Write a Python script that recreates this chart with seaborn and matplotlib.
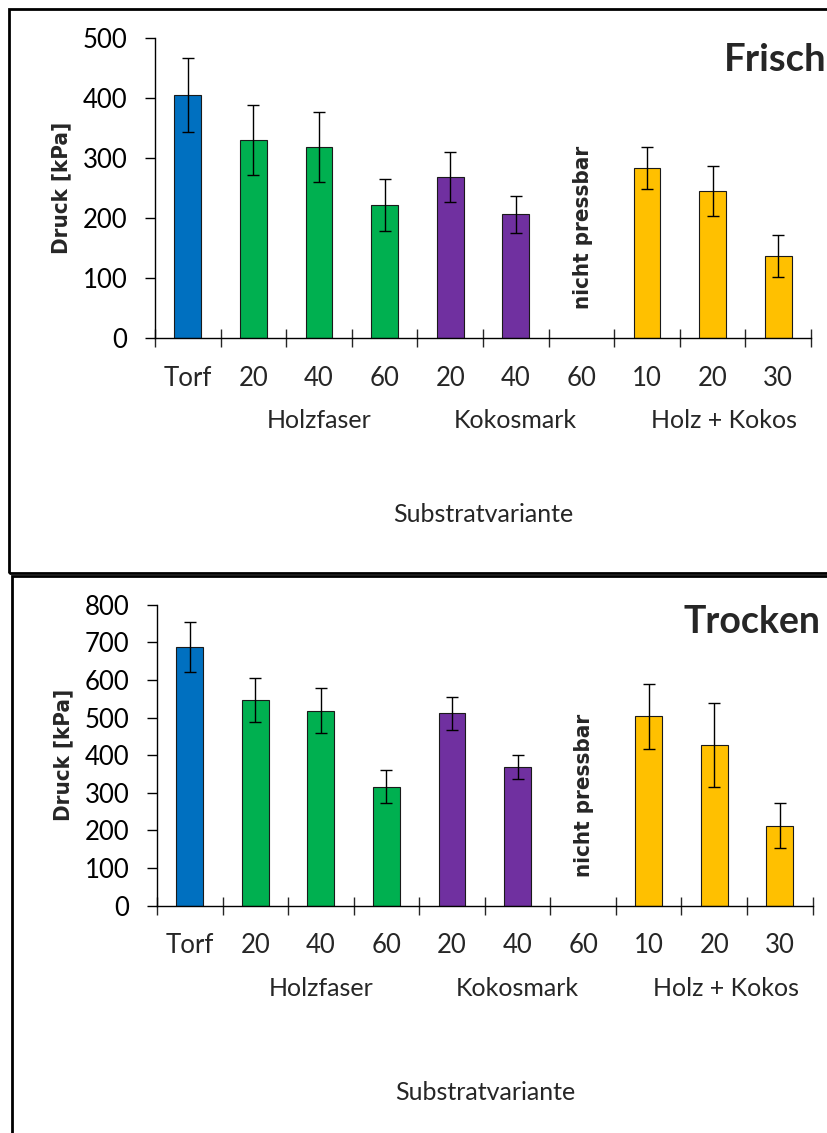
import matplotlib
matplotlib.use("Agg")
import matplotlib.pyplot as plt
from matplotlib.patches import Rectangle
from matplotlib.transforms import blended_transform_factory
import seaborn as sns
import numpy as np

# ---------------- data ----------------
categories = ["Torf", "HF20", "HF40", "HF60", "KM20", "KM40", "KM60", "HK10", "HK20", "HK30"]
tick_labels = ["Torf", "20", "40", "60", "20", "40", "60", "10", "20", "30"]
groups = ["Torf", "Holzfaser", "Holzfaser", "Holzfaser", "Kokosmark", "Kokosmark", "Kokosmark",
          "Holz + Kokos", "Holz + Kokos", "Holz + Kokos"]
group_labels = ["Holzfaser", "Kokosmark", "Holz + Kokos"]

frisch_values = [405, 330, 318, 221, 268, 206, np.nan, 283, 245, 136]
frisch_errors = [62, 58, 58, 43, 42, 31, np.nan, 35, 42, 35]
trocken_values = [688, 547, 518, 316, 512, 369, np.nan, 503, 428, 213]
trocken_errors = [66, 59, 60, 44, 44, 31, np.nan, 87, 112, 59]

palette = {"Torf": "#0070C0", "Holzfaser": "#00B050", "Kokosmark": "#7030A0", "Holz + Kokos": "#FFC000"}

# ---------------- style ----------------
sns.set_style("white")
plt.rcParams["font.family"] = ["Lato", "DejaVu Sans"]

W, H = 828, 1133
fig = plt.figure(figsize=(W / 100, H / 100), dpi=100)


def px_axes(left, right, y_bottom, y_top):
    return [left / W, 1 - y_bottom / H, (right - left) / W, (y_bottom - y_top) / H]


def panel(ax, values, errors, ymax, title, title_xy, title_size, xlabel_y):
    sns.barplot(x=categories, y=values, hue=groups, order=categories, palette=palette,
                saturation=1, dodge=False, width=0.41, edgecolor="#1a1a1a", linewidth=0.8,
                legend=False, ax=ax, zorder=2)
    pos = np.arange(len(categories))
    ax.errorbar(pos, values, yerr=errors, fmt="none", ecolor="black",
                elinewidth=1.0, capsize=4, capthick=1.0, zorder=3)
    ax.set_xlim(-0.5, len(categories) - 0.5)
    ax.set_ylim(0, ymax)
    ax.set_yticks(np.arange(0, ymax + 1, 100))
    ax.tick_params(axis="y", left=True, direction="out", length=7, width=1, pad=13,
                   labelsize=18.5, colors="black")
    # major x ticks at category boundaries, labels on minor ticks
    ax.set_xticks(np.arange(-0.5, len(categories), 1.0))
    ax.set_xticklabels([])
    ax.set_xticks(pos, minor=True)
    ax.set_xticklabels(tick_labels, minor=True)
    ax.tick_params(axis="x", which="major", bottom=True, direction="inout", length=13.5, width=1)
    ax.tick_params(axis="x", which="minor", bottom=True, length=0, pad=20, labelsize=18.5)
    for s in ["top", "right"]:
        ax.spines[s].set_visible(False)
    for s in ["left", "bottom"]:
        ax.spines[s].set_color("black")
        ax.spines[s].set_linewidth(1.0)
    ax.set_xlabel("")
    ax.set_ylabel("Druck [kPa]", fontsize=16, fontweight="bold", family="DejaVu Sans",
                  fontstretch="condensed")
    ax.yaxis.set_label_coords(-0.127, 0.5)
    trans = blended_transform_factory(ax.transData, ax.transAxes)
    # group labels
    group_x = [2.0, 5.0, 8.18]
    for gx, gl in zip(group_x, group_labels):
        ax.text(gx, -0.276, gl, transform=trans, ha="center", va="center", fontsize=18)
    ax.text(0.5, xlabel_y, "Substratvariante", transform=ax.transAxes,
            ha="center", va="center", fontsize=18)
    ax.text(6.02, 0.367, "nicht pressbar", transform=trans, rotation=90, ha="center",
            va="center", fontsize=16, fontweight="bold", family="DejaVu Sans",
            fontstretch="condensed")
    fig.text(title_xy[0] / W, 1 - title_xy[1] / H, title, ha="left", va="center",
             fontsize=title_size, fontweight="bold")


ax1 = fig.add_axes(px_axes(155, 811, 338, 37.7))
panel(ax1, frisch_values, frisch_errors, 500, "Frisch", (724, 60), 27.5, -0.589)

ax2 = fig.add_axes(px_axes(157, 812.6, 905.7, 604.7))
panel(ax2, trocken_values, trocken_errors, 800, "Trocken", (684, 622), 27, -0.622)

# panel frames
fig.add_artist(Rectangle((9 / W, 1 - 573 / H), 900 / W, 564 / H, transform=fig.transFigure,
                         fill=False, edgecolor="black", linewidth=2.0))
fig.add_artist(Rectangle((12 / W, 1 - 1160 / H), 900 / W, 584 / H, transform=fig.transFigure,
                         fill=False, edgecolor="black", linewidth=2.0))

fig.savefig("out.png", dpi=100, facecolor="white")
